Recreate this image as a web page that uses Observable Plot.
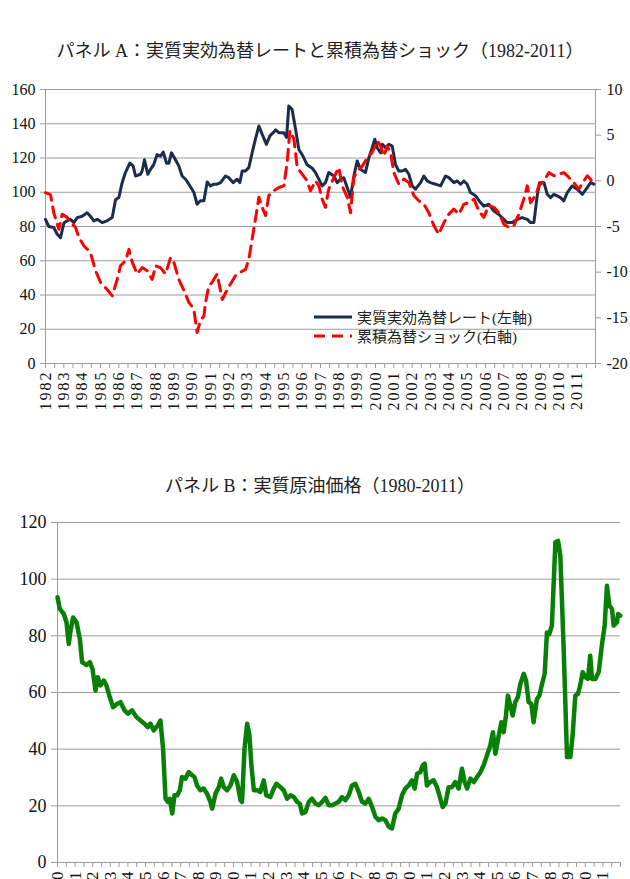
<!DOCTYPE html>
<html>
<head>
<meta charset="utf-8">
<script src="https://cdn.jsdelivr.net/npm/d3@7"></script>
<script src="https://cdn.jsdelivr.net/npm/@observablehq/plot@0.6"></script>
<style>
  html, body { margin: 0; padding: 0; background: #fff; overflow: hidden; }
  #page { position: relative; width: 630px; height: 879px; overflow: hidden; background: #fff; }
  .title { position: absolute; left: 0; width: 640px; text-align: center;
           font-family: "Liberation Serif", "Noto Sans CJK JP", serif; font-size: 18px; color: #222; white-space: nowrap; }
  .chart { position: absolute; left: 0; }
  .legend { position: absolute; font-family: "Liberation Serif", "Noto Sans CJK JP", serif; font-size: 15px; color: #222; }
  .legend div { position: absolute; white-space: nowrap; }
  .chart svg text { font-family: "Liberation Serif", "Noto Sans CJK JP", serif; }
  .chart svg g[aria-label="x-axis tick label"] text { letter-spacing: 2px; }
</style>
</head>
<body>
<div id="page">
  <div class="title" id="titleA" style="top:36px"></div>
  <div class="chart" id="chartA" style="top:70px"></div>
  <div class="legend" id="legendA" style="left:0;top:0"></div>
  <div class="title" id="titleB" style="top:471px"></div>
  <div class="chart" id="chartB" style="top:505px"></div>
</div>
<script>
// ---- Panel A: real effective exchange rate (left axis) and cumulative FX shock (right axis)
const titleA = "パネル A：実質実効為替レートと累積為替ショック（1982-2011）";
const legendLabels = ["実質実効為替レート(左軸)", "累積為替ショック(右軸)"];
const leftTicksA = [0, 20, 40, 60, 80, 100, 120, 140, 160];
const rightTicksA = [-20, -15, -10, -5, 0, 5, 10];
const yearsA = d3.range(1982, 2012);

// [year, index]
const reerSeries = [
  [1982.00,84.2],[1982.18,80],[1982.45,79.4],[1982.64,75.5],[1982.82,73.5],[1983.00,82],[1983.18,83.3],
  [1983.36,84.2],[1983.55,82.3],[1983.73,85.2],[1984.00,86],[1984.27,88],[1984.45,86],[1984.64,83.3],
  [1984.82,84.2],[1985.09,82.3],[1985.36,83.3],[1985.64,85.2],[1985.82,95.6],[1986.00,96.9],[1986.18,105.6],
  [1986.36,111.5],[1986.60,117],[1986.78,115.4],[1986.91,109.5],[1987.18,110.5],[1987.27,112.4],[1987.40,119],
  [1987.58,110.5],[1987.73,113.4],[1987.91,116.3],[1988.09,122],[1988.27,121],[1988.42,123.5],[1988.60,117],
  [1988.73,117],[1988.87,123],[1989.09,119],[1989.27,115.4],[1989.45,109.5],[1989.64,107.6],[1989.82,104.7],
  [1990.09,100],[1990.27,93],[1990.45,95],[1990.64,95],[1990.82,106],[1991.00,103.7],[1991.18,104.7],
  [1991.36,104.7],[1991.55,105.6],[1991.82,109.5],[1992.00,108.5],[1992.24,105.6],[1992.45,107.6],[1992.60,105.6],
  [1992.73,112.4],[1992.91,112.4],[1993.09,114.4],[1993.27,123],[1993.45,131],[1993.64,138.7],[1993.82,133.8],
  [1994.05,128],[1994.24,132.9],[1994.42,134.8],[1994.55,136.4],[1994.73,134.8],[1995.00,134.8],[1995.15,132],
  [1995.27,150.4],[1995.45,148.4],[1995.64,136.8],[1995.82,125],[1996.05,121],[1996.27,116],[1996.55,114],
  [1996.73,111.5],[1997.09,103.7],[1997.27,105.6],[1997.45,111.5],[1997.73,109.5],[1997.91,105.6],[1998.09,107.6],
  [1998.27,108.5],[1998.55,99.8],[1998.64,96.9],[1998.82,109.5],[1999.00,118.3],[1999.18,113.4],[1999.45,111.5],
  [1999.64,120.2],[1999.82,126],[1999.96,131],[2000.09,126],[2000.28,123],[2000.37,128],[2000.55,126],
  [2000.73,128],[2000.91,127],[2001.09,116.3],[2001.27,112.4],[2001.45,112.4],[2001.64,113.4],[2001.82,110.5],
  [2002.00,103.7],[2002.18,101.8],[2002.46,105.6],[2002.64,109.5],[2002.82,106.6],[2003.00,105.6],[2003.28,104.7],
  [2003.55,103.7],[2003.82,109.5],[2004.00,108.5],[2004.28,105.6],[2004.46,106.6],[2004.64,104.7],[2004.82,106.6],
  [2005.00,104.7],[2005.18,99.8],[2005.46,97.9],[2005.73,94],[2005.91,91.9],[2006.18,93],[2006.46,89],
  [2006.73,87],[2007.00,84.2],[2007.18,82.3],[2007.46,82.3],[2007.73,84.2],[2008.00,85.2],[2008.28,84.2],
  [2008.46,82.3],[2008.64,82.3],[2008.82,97.9],[2008.95,105.6],[2009.19,105.6],[2009.37,98.8],[2009.55,96.9],
  [2009.73,98.8],[2009.91,97.9],[2010.09,96.9],[2010.27,95],[2010.46,99.8],[2010.73,103.7],[2011.00,101.8],
  [2011.28,98.8],[2011.55,102.7],[2011.73,105.6],[2011.91,104.7]
];

// [year, cumulative shock]
const shockSeries = [
  [1982.00,-1.3],[1982.27,-1.5],[1982.45,-3.5],[1982.73,-5.3],[1982.91,-3.65],[1983.18,-4.0],[1983.45,-4.7],
  [1983.64,-5.1],[1983.82,-6.2],[1984.09,-7.1],[1984.45,-7.85],[1984.73,-9.85],[1985.00,-11.1],[1985.36,-11.9],
  [1985.64,-12.6],[1985.91,-10.8],[1986.09,-9.3],[1986.36,-8.75],[1986.55,-7.5],[1986.73,-8.9],[1987.00,-10.2],
  [1987.27,-9.5],[1987.55,-9.85],[1987.82,-10.8],[1988.00,-9.3],[1988.27,-9.5],[1988.55,-10.2],[1988.82,-8.4],
  [1989.00,-8.9],[1989.27,-10.8],[1989.55,-12.0],[1989.82,-13.3],[1990.09,-14.05],[1990.27,-16.6],[1990.45,-15.3],
  [1990.64,-14.8],[1990.73,-13.3],[1990.91,-11.5],[1991.09,-11.1],[1991.36,-10.2],[1991.64,-13.0],[1991.91,-11.9],
  [1992.09,-11.3],[1992.36,-10.4],[1992.64,-10.0],[1992.91,-9.7],[1993.09,-8.6],[1993.27,-6.4],[1993.45,-4.2],
  [1993.64,-1.8],[1993.82,-2.9],[1994.00,-3.8],[1994.18,-1.6],[1994.45,-1.1],[1994.73,-0.73],[1995.00,-0.55],
  [1995.18,2.0],[1995.33,5.5],[1995.55,4.6],[1995.73,1.46],[1996.00,0.73],[1996.27,0.0],[1996.45,-1.1],
  [1996.73,0.0],[1996.91,-0.55],[1997.09,-2.0],[1997.27,-2.9],[1997.45,-0.9],[1997.73,0.36],[1998.00,1.46],
  [1998.18,-0.55],[1998.46,-1.8],[1998.64,-3.5],[1998.82,0.36],[1999.00,1.1],[1999.28,1.6],[1999.55,2.55],
  [1999.82,3.1],[2000.10,4.4],[2000.28,3.8],[2000.46,2.7],[2000.64,3.8],[2000.82,3.1],[2001.00,0.9],
  [2001.27,-0.36],[2001.55,0.2],[2001.82,-0.2],[2002.09,-1.6],[2002.37,-2.2],[2002.64,-2.55],[2002.91,-3.5],
  [2003.18,-4.9],[2003.45,-5.85],[2003.73,-4.6],[2004.00,-3.65],[2004.27,-3.1],[2004.55,-3.65],[2004.82,-2.55],
  [2005.10,-2.4],[2005.37,-2.0],[2005.64,-3.3],[2005.91,-4.0],[2006.18,-2.7],[2006.46,-2.9],[2006.73,-3.5],
  [2007.00,-4.75],[2007.28,-5.1],[2007.55,-4.9],[2007.82,-3.65],[2008.09,-2.0],[2008.28,-0.55],[2008.46,-2.4],
  [2008.73,-1.6],[2008.91,-0.55],[2009.18,0.0],[2009.46,0.9],[2009.73,0.55],[2010.00,0.73],[2010.28,0.9],
  [2010.55,0.36],[2010.82,-0.2],[2011.09,-0.9],[2011.37,0.0],[2011.55,0.55],[2011.73,0.2],[2011.91,-0.55]
];

// ---- Panel B: real crude oil price
const titleB = "パネル B：実質原油価格（1980-2011）";
const ticksB = [0, 20, 40, 60, 80, 100, 120];
const yearsB = d3.range(1980, 2012);

// [year, price]
const oilSeries = [
  [1980.00,93.6],[1980.13,89.5],[1980.36,87.7],[1980.51,84.8],[1980.64,77.1],[1980.74,81.8],[1980.89,86.5],
  [1981.08,84.8],[1981.27,78.9],[1981.40,70.7],[1981.65,69.7],[1981.84,70.7],[1981.99,68.3],[1982.16,60.7],
  [1982.29,65.4],[1982.44,62.5],[1982.63,64.2],[1982.78,62.5],[1982.97,58.4],[1983.16,54.8],[1983.39,56],
  [1983.58,56.6],[1983.81,53.7],[1984.00,52.5],[1984.24,53.7],[1984.49,51.3],[1984.72,50.1],[1984.94,49],
  [1985.13,47.8],[1985.28,49],[1985.47,46.6],[1985.70,48.4],[1985.85,50.1],[1986.00,40.2],[1986.14,22.5],
  [1986.27,21.4],[1986.38,22.5],[1986.52,17.3],[1986.65,23.7],[1986.80,23.7],[1986.95,25.5],[1987.08,30.2],
  [1987.27,29.6],[1987.46,31.9],[1987.65,30.8],[1987.78,30.2],[1987.93,27.2],[1988.12,25.5],[1988.31,26.1],
  [1988.50,24.3],[1988.69,21.4],[1988.79,19],[1988.98,24.3],[1989.17,26.6],[1989.30,29.6],[1989.45,26.6],
  [1989.64,25.5],[1989.83,27.2],[1990.02,30.8],[1990.21,28.4],[1990.40,22],[1990.49,21.4],[1990.63,40.2],
  [1990.78,49],[1990.91,44.9],[1991.02,34.3],[1991.16,25.5],[1991.35,25.5],[1991.53,24.9],[1991.72,29],
  [1991.87,23.7],[1992.10,23.1],[1992.29,26.1],[1992.44,27.8],[1992.67,26.6],[1992.86,25.5],[1993.05,22.5],
  [1993.24,23.7],[1993.43,23.1],[1993.62,21.4],[1993.77,20.8],[1993.90,17.3],[1994.09,17.8],[1994.28,21.4],
  [1994.47,22.5],[1994.66,20.8],[1994.85,20.2],[1995.04,21.4],[1995.23,22.8],[1995.42,20.2],[1995.61,20.2],
  [1995.80,20.8],[1995.98,21.4],[1996.17,23.1],[1996.36,22],[1996.55,23.7],[1996.74,27.2],[1996.93,27.8],
  [1997.12,24.9],[1997.31,21.4],[1997.50,20.8],[1997.69,22.5],[1997.88,19.6],[1998.07,16.1],[1998.26,14.9],
  [1998.45,15.5],[1998.64,14.9],[1998.83,12.6],[1999.01,12],[1999.20,17.3],[1999.39,19],[1999.58,23.7],
  [1999.77,26.1],[1999.96,27.2],[2000.15,29],[2000.30,26.1],[2000.44,31.3],[2000.62,31.9],[2000.76,34.3],
  [2000.87,34.9],[2001.00,27.2],[2001.19,28.4],[2001.38,29],[2001.57,26.6],[2001.76,22.5],[2001.89,19.6],
  [2002.05,20.8],[2002.23,26.6],[2002.42,26.6],[2002.61,28.4],[2002.80,26.1],[2002.99,33.1],[2003.14,28.4],
  [2003.28,26.1],[2003.47,29.6],[2003.66,28.4],[2003.85,30.2],[2004.04,31.9],[2004.22,34.3],[2004.41,37.8],
  [2004.60,41.3],[2004.75,46],[2004.89,38.4],[2005.08,44.9],[2005.23,49.5],[2005.36,46],[2005.49,51.9],
  [2005.60,58.9],[2005.74,55.4],[2005.87,51.9],[2006.02,56.6],[2006.17,58.4],[2006.31,63],[2006.50,66.6],
  [2006.63,64.2],[2006.78,56.6],[2006.93,56],[2007.06,49.5],[2007.25,57.7],[2007.39,58.9],[2007.54,63],
  [2007.69,66.6],[2007.82,81.2],[2007.95,80.6],[2008.10,83.6],[2008.30,113],[2008.45,113.5],[2008.58,108.3],
  [2008.77,75.4],[2008.96,37.2],[2009.15,37.2],[2009.28,44.9],[2009.43,58.9],[2009.58,59.5],[2009.71,62.5],
  [2009.85,67.2],[2010.00,65.4],[2010.15,64.8],[2010.28,73],[2010.38,64.8],[2010.57,64.8],[2010.76,67.2],
  [2010.95,77.1],[2011.10,83.6],[2011.23,97.7],[2011.37,90.6],[2011.52,89.5],[2011.61,83.6],[2011.80,84.8],
  [2011.86,87.7],[2011.99,87.1]
];

const FONT = "'Liberation Serif', 'Noto Sans CJK JP', serif";
const GRID = "#9d9d9d";
const NAVY = "#1b2d4c";
const RED = "#ff0000";
const GREEN = "#088008";
const DASH = "11,7";

// The shock series shares the left scale: [-20, 10] is mapped onto [0, 160].
const toLeft = s => (s + 20) * 160 / 30;
const fromLeft = v => v * 30 / 160 - 20;

const halfYears = (a, b) => d3.range(a * 2, b * 2 + 1).map(k => k / 2);

document.getElementById("titleA").textContent = titleA;
document.getElementById("titleB").textContent = titleB;

const chartA = Plot.plot({
  width: 630, height: 355,
  marginTop: 19, marginBottom: 62, marginLeft: 45, marginRight: 35,
  style: { fontFamily: FONT, fontSize: "15px", color: "#111", background: "transparent" },
  x: { domain: [1982, 2012] },
  y: { domain: [0, 160] },
  marks: [
    Plot.gridY(leftTicksA, { stroke: GRID, strokeOpacity: 1 }),
    Plot.ruleX([1982, 2012], { stroke: GRID }),
    Plot.axisY({ ticks: leftTicksA, anchor: "left", tickSize: 5, tickPadding: 5, stroke: GRID, fill: "#111",
                 fontSize: 16, label: null, tickFormat: d => String(d) }),
    Plot.axisY({ ticks: rightTicksA.map(toLeft), anchor: "right", tickSize: 5, tickPadding: 6, stroke: GRID,
                 fill: "#111", fontSize: 16, label: null, tickFormat: v => String(Math.round(fromLeft(v))) }),
    Plot.axisX({ ticks: halfYears(1982, 2012), anchor: "bottom", tickSize: 5, tickPadding: 2, stroke: GRID,
                 fill: "#111", fontSize: 16, tickRotate: -90, label: null,
                 tickFormat: d => (Number.isInteger(d) && yearsA.includes(d)) ? String(d) : "" }),
    Plot.line(reerSeries, { x: d => d[0], y: d => d[1], stroke: NAVY, strokeWidth: 3 }),
    Plot.line(shockSeries, { x: d => d[0], y: d => toLeft(d[1]), stroke: RED, strokeWidth: 3, strokeDasharray: DASH })
  ]
});
document.getElementById("chartA").appendChild(chartA);

// Legend inside panel A
const legend = document.getElementById("legendA");
[[NAVY, null, 317], [RED, DASH, 336]].forEach(([color, dash, y], i) => {
  const svg = d3.create("svg").attr("width", 40).attr("height", 8)
    .style("position", "absolute").style("left", "313px").style("top", (y - 4) + "px");
  svg.append("line").attr("x1", 1).attr("x2", 39).attr("y1", 4).attr("y2", 4)
    .attr("stroke", color).attr("stroke-width", 3).attr("stroke-dasharray", dash);
  legend.appendChild(svg.node());
  const t = document.createElement("div");
  t.textContent = legendLabels[i];
  t.style.left = "357px";
  t.style.top = (y - 11) + "px";
  legend.appendChild(t);
});

const chartB = Plot.plot({
  width: 630, height: 420,
  marginTop: 17, marginBottom: 63, marginLeft: 57, marginRight: 10,
  style: { fontFamily: FONT, fontSize: "16px", color: "#111", background: "transparent" },
  x: { domain: [1980, 2012] },
  y: { domain: [0, 120] },
  marks: [
    Plot.gridY(ticksB, { stroke: GRID, strokeOpacity: 1 }),
    Plot.ruleX([1980], { stroke: GRID }),
    Plot.axisY({ ticks: ticksB, anchor: "left", tickSize: 6, tickPadding: 5, stroke: GRID, fill: "#111",
                 fontSize: 18, label: null, tickFormat: d => String(d) }),
    Plot.axisX({ ticks: halfYears(1980, 2012), anchor: "bottom", tickSize: 5, tickPadding: 2, stroke: GRID,
                 fill: "#111", fontSize: 17, tickRotate: -90, label: null,
                 tickFormat: d => (Number.isInteger(d) && yearsB.includes(d)) ? String(d) : "" }),
    Plot.line(oilSeries, { x: d => d[0], y: d => d[1], stroke: GREEN, strokeWidth: 4.5, strokeLinejoin: "round" })
  ]
});
document.getElementById("chartB").appendChild(chartB);
</script>
</body>
</html>
